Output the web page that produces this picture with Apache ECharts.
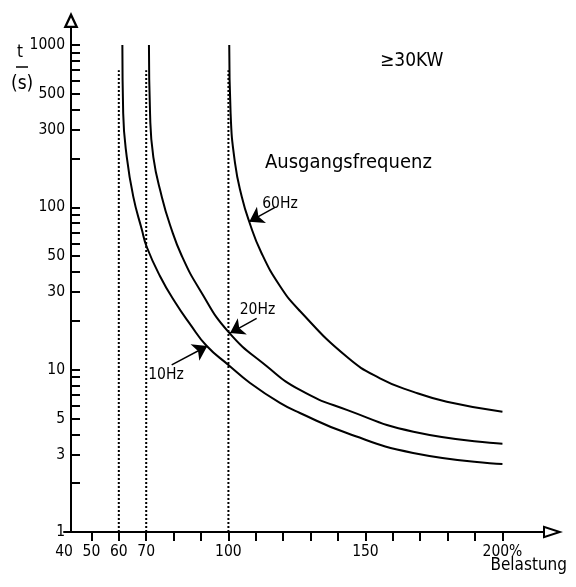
<!DOCTYPE html>
<html><head><meta charset="utf-8">
<script src="https://cdn.jsdelivr.net/npm/echarts@6/dist/echarts.min.js"></script>
<style>html,body{margin:0;padding:0;background:#fff}#c{width:576px;height:587px}</style>
</head><body><div id="c"></div>
<script>
const FONT = "'DejaVu Sans Condensed','Liberation Sans Narrow','Liberation Sans',sans-serif";

// Curves: load (%) vs time (s)
const load10Hz = [61.3, 61.6, 62.9, 65.3, 68.4, 70.2, 75, 80.5, 86, 92.1, 100, 107.9, 118.8, 126.1, 143.2, 167.4, 200];
const time10Hz = [1000, 380, 205, 116, 73, 57, 37.8, 26.1, 19.1, 14.0, 10.7, 8.28, 6.24, 5.41, 4.07, 3.07, 2.62];
const load20Hz = [71, 71.4, 72.6, 75.7, 78.7, 83, 89.6, 100, 114, 126.1, 143.2, 167.5, 200];
const time20Hz = [1000, 380, 204, 116, 77.9, 50.2, 31, 17.1, 10.5, 7.5, 5.65, 4.15, 3.5];
const load60Hz = [100.3, 100.8, 102.4, 104.9, 107.6, 111.9, 118.8, 126.1, 143.2, 155.3, 167.5, 179.7, 200];
const time60Hz = [1000, 380, 188, 116, 81.6, 53.1, 32.8, 23.0, 12.0, 8.85, 7.3, 6.35, 5.5];

// dotted asymptotes
const asymptoteLoads = [60, 70, 100];
const asymptoteSpan = [1, 700];

// label arrows: [startLoad, startTime, tipLoad, tipTime]
const arrowLines = [
  [117, 100, 107.6, 81.6],
  [110.3, 20.7, 100.6, 16.8],
  [79.3, 10.7, 92.3, 14.0]
];
// label texts and their anchor points: [text, load, time]
const curveLabels = [
  ['60Hz', 118.8, 105],
  ['20Hz', 110.6, 23.3],
  ['10Hz', 77.2, 9.28]
];

// tick labels
const xTickLabels = [40, 50, 60, 70, 100, 150, 200];
const xTicks = [50, 60, 70, 80, 90, 100, 110, 120, 130, 140, 150, 160, 170, 180, 190, 200];
const yTickLabels = [1, 3, 5, 10, 30, 50, 100, 300, 500, 1000];
const yTicks = [2, 3, 4, 5, 6, 7, 8, 9, 10, 20, 30, 40, 50, 60, 70, 80, 90, 100, 200, 300, 400, 500, 600, 700, 800, 900, 1000];

const yArrow = 'path://M0,0 L7.5,16 L-7.5,16 Z M0,5.4 L-3.9,13.7 L3.9,13.7 Z';
const xArrow = 'path://M0,0 L6.5,20 L-6.5,20 Z M0,6.5 L-3.7,18 L3.7,18 Z';

const zip = (a, b) => a.map((v, i) => [v, b[i]]);

const curveStyle = { color: '#000', width: 2 };
function curve(name, xs, ys) {
  return {
    name, type: 'line', data: zip(xs, ys), showSymbol: false, symbol: 'none',
    smooth: 0.5, lineStyle: curveStyle, z: 3, animation: false
  };
}

const series = [
  curve('10Hz', load10Hz, time10Hz),
  curve('20Hz', load20Hz, time20Hz),
  curve('60Hz', load60Hz, time60Hz)
];
asymptoteLoads.forEach(x => {
  series.push({
    type: 'line', data: asymptoteSpan.map(t => [x, t]), symbol: 'none', animation: false, z: 2,
    lineStyle: { color: '#000', width: 2, type: [2, 2] }
  });
});
series.push({
  type: 'line', data: [], symbol: 'none', animation: false,
  markLine: {
    silent: true, animation: false, symbol: ['none', 'arrow'], symbolSize: 14,
    lineStyle: { color: '#000', width: 1.5, type: 'solid' },
    label: { show: false },
    data: arrowLines.map(a => [{ coord: [a[0], a[1]] }, { coord: [a[2], a[3]] }])
  },
  markPoint: {
    silent: true, animation: false, symbol: 'circle', symbolSize: 1,
    itemStyle: { color: 'rgba(0,0,0,0)' },
    label: { show: true, position: 'inside', color: '#000', fontFamily: FONT, fontSize: 15.5,
      formatter: p => p.name },
    data: curveLabels.map(l => ({ name: l[0], coord: [l[1], l[2]] }))
  }
});

const chart = echarts.init(document.getElementById('c'), null, { renderer: 'canvas' });
chart.setOption({
  animation: false,
  backgroundColor: '#fff',
  grid: { left: 64, right: 33, top: 28, bottom: 55, containLabel: false, outerBoundsMode: 'none' },
  xAxis: {
    type: 'value', min: 40, max: 214.8,
    axisLine: { show: true, lineStyle: { color: '#000', width: 2 },
      symbol: ['none', xArrow], symbolSize: [13, 20], symbolOffset: [0, 10] },
    axisTick: { show: true, inside: false, length: 9, lineStyle: { color: '#000', width: 2 }, customValues: xTicks },
    axisLabel: { color: '#000', fontFamily: FONT, fontSize: 15.5, margin: 12, customValues: xTickLabels,
      formatter: v => v === 200 ? '200%' : String(v) },
    splitLine: { show: false }
  },
  yAxis: {
    type: 'log', logBase: 10, min: 1, max: 1274, offset: -7,
    axisLine: { show: true, lineStyle: { color: '#000', width: 2 },
      symbol: ['none', yArrow], symbolSize: [15, 16], symbolOffset: [0, 8] },
    axisTick: { show: true, inside: true, length: 9, lineStyle: { color: '#000', width: 2 }, customValues: yTicks },
    axisLabel: { color: '#000', fontFamily: FONT, fontSize: 15.5, margin: 6, customValues: yTickLabels,
      formatter: v => String(v) },
    splitLine: { show: false }, minorTick: { show: false }
  },
  graphic: [
    { type: 'text', left: 380, top: 52, style: { text: '≥30KW', fill: '#000', font: '19px ' + FONT } },
    { type: 'text', left: 265, top: 153, style: { text: 'Ausgangsfrequenz', fill: '#000', font: '20px ' + FONT } },
    { type: 'text', right: 9, top: 557, style: { text: 'Belastung', fill: '#000', font: '17px ' + FONT } },
    { type: 'text', left: 11, top: 75, style: { text: '(s)', fill: '#000', font: '19px ' + FONT } },
    { type: 'text', left: 17, top: 44, style: { text: 't', fill: '#000', font: '17px ' + FONT } },
    { type: 'line', shape: { x1: 16, y1: 67, x2: 28, y2: 67 }, style: { stroke: '#000', lineWidth: 1.5 } }
  ],
  series
});
</script>
</body></html>
